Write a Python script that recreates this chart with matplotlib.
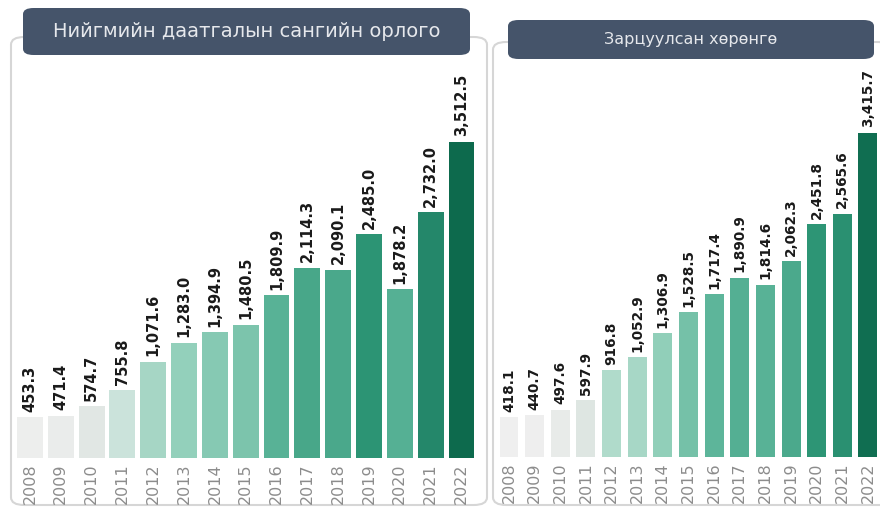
import matplotlib
matplotlib.use('Agg')
import matplotlib.pyplot as plt
from matplotlib.colors import LinearSegmentedColormap, Normalize
from matplotlib.patches import FancyBboxPatch

years = ['2008', '2009', '2010', '2011', '2012', '2013', '2014', '2015',
         '2016', '2017', '2018', '2019', '2020', '2021', '2022']
income = [453.3, 471.4, 574.7, 755.8, 1071.6, 1283.0, 1394.9, 1480.5,
          1809.9, 2114.3, 2090.1, 2485.0, 1878.2, 2732.0, 3512.5]
spent = [418.1, 440.7, 497.6, 597.9, 916.8, 1052.9, 1306.9, 1528.5,
         1717.4, 1890.9, 1814.6, 2062.3, 2451.8, 2565.6, 3415.7]
titles = ['Нийгмийн даатгалын сангийн орлого', 'Зарцуулсан хөрөнгө']

W, H = 880, 511
cmap = LinearSegmentedColormap.from_list('grn', [
    (0.0, '#efefef'), (0.05, '#e0e6e3'), (0.11, '#c9e3da'), (0.16, '#b0dbcb'),
    (0.21, '#a6d6c5'), (0.28, '#93d0bb'), (0.34, '#7cc4ac'), (0.42, '#5db59a'),
    (0.54, '#4aa88b'), (0.66, '#2d9575'), (0.75, '#24876a'), (1.0, '#0d6a4d')])
# one colour scale shared by both panels
norm = Normalize(min(income + spent), max(income + spent))


def px(x0, y0, w, h):
    # pixel box (top-left origin) -> figure fraction
    return [x0 / W, 1 - (y0 + h) / H, w / W, h / H]


fig = plt.figure(figsize=(8.8, 5.11), dpi=100)
fig.patch.set_facecolor('white')

# panel frames
for (x0, y0, w, h) in [(11, 37, 476, 468), (493, 42, 400, 463)]:
    fig.patches.append(FancyBboxPatch((x0 / W, 1 - (y0 + h) / H), w / W, h / H,
                                      boxstyle='round,pad=0,rounding_size=0.015',
                                      transform=fig.transFigure, fc='none',
                                      ec='#d6d6d6', lw=1.5, zorder=-1))

panels = [
    dict(vals=income, box=(13, 40, 465.4, 418), ymax=418 / 0.09, xl=(-0.55, 14.55),
         width=0.84, fs=10.5),
    dict(vals=spent, box=(494.9, 45, 384.6, 412), ymax=412 / 0.0949, xl=(-0.55, 14.45),
         width=0.74, fs=9.8),
]

for p in panels:
    ax = fig.add_axes(px(*p['box']))
    ax.set_facecolor('none')
    cols = [cmap(norm(v)) for v in p['vals']]
    bars = ax.bar(range(len(years)), p['vals'], width=p['width'], color=cols)
    for b, v in zip(bars, p['vals']):
        ax.text(b.get_x() + b.get_width() / 2, v + p['ymax'] * 0.013, f'{v:,.1f}',
                rotation=90, ha='center', va='bottom', fontsize=p['fs'],
                fontweight='bold', color='#1a1a1a')
    ax.set_xlim(*p['xl'])
    ax.set_ylim(0, p['ymax'])
    ax.set_xticks(range(len(years)))
    ax.set_xticklabels(years, rotation=90, fontsize=11.5, color='#8c8c8c')
    ax.tick_params(axis='x', length=0, pad=4)
    ax.set_yticks([])
    for s in ax.spines.values():
        s.set_visible(False)

# title pills
for (x0, y0, w, h), t, fs in zip([(23, 8, 447, 47), (508, 20, 366, 39)], titles, [14, 11.5]):
    fig.patches.append(FancyBboxPatch((x0 / W, 1 - (y0 + h) / H), w / W, h / H,
                                      boxstyle='round,pad=0,rounding_size=0.012',
                                      transform=fig.transFigure, fc='#45546a',
                                      ec='none', zorder=5))
    fig.text((x0 + w / 2) / W, 1 - (y0 + h / 2) / H, t, ha='center', va='center',
             fontsize=fs, color='#e6e8ec', zorder=6)

fig.savefig('out.png', dpi=100)
